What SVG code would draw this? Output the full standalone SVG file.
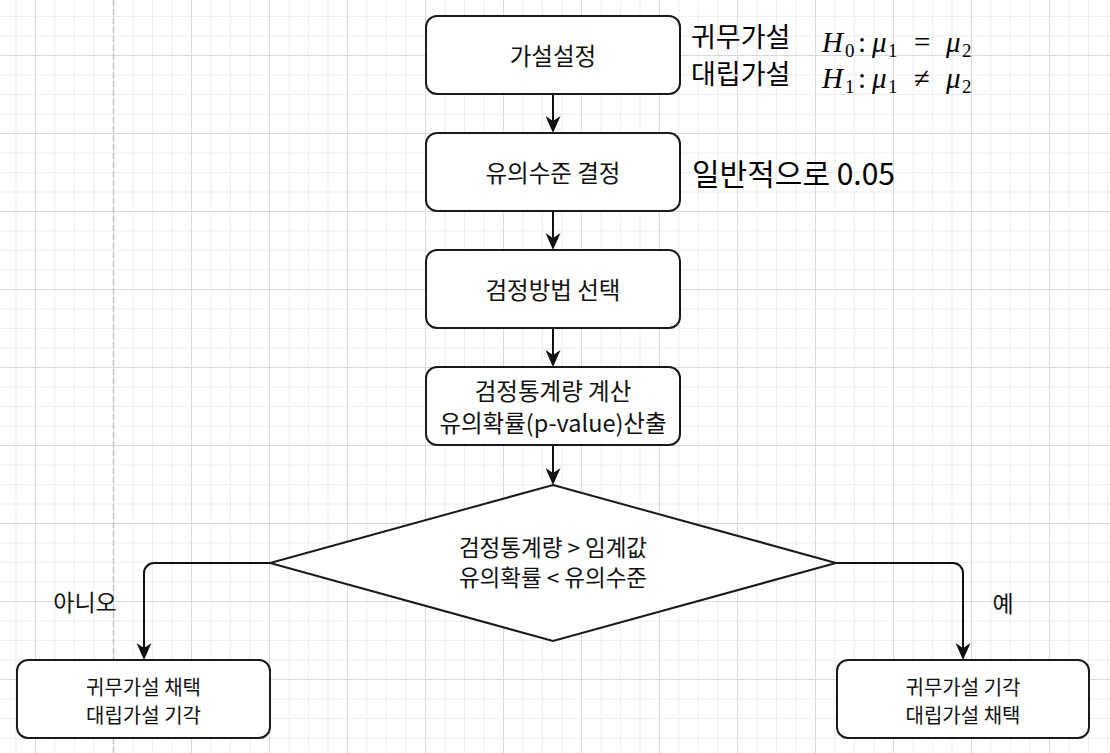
<svg xmlns="http://www.w3.org/2000/svg" width="1110" height="753" viewBox="0 0 1110 753">
  <defs>
    <pattern id="grid" patternUnits="userSpaceOnUse" x="35" y="55" width="78" height="78">
      <rect x="0" y="0" width="78" height="78" fill="#ffffff"/>
      <rect x="19.5" y="0" width="1" height="78" fill="#eeeeee"/>
      <rect x="39" y="0" width="1" height="78" fill="#eeeeee"/>
      <rect x="58.5" y="0" width="1" height="78" fill="#eeeeee"/>
      <rect x="0" y="19.5" width="78" height="1" fill="#eeeeee"/>
      <rect x="0" y="39" width="78" height="1" fill="#eeeeee"/>
      <rect x="0" y="58.5" width="78" height="1" fill="#eeeeee"/>
      <rect x="0" y="0" width="1" height="78" fill="#d9d9d9"/>
      <rect x="0" y="0" width="78" height="1" fill="#d9d9d9"/>
    </pattern>
    <marker id="arrow" markerUnits="userSpaceOnUse" markerWidth="17" markerHeight="17" viewBox="0 0 17 17" refX="13" refY="8.5" orient="auto">
      <path d="M0,1 L17,8.5 L0,16 L5,8.5 Z" fill="#111111"/>
    </marker>
  </defs>
  <style>
    .box { fill: #ffffff; stroke: #1a1a1a; stroke-width: 2; }
    .conn { fill: none; stroke: #111111; stroke-width: 2; }
    .t { font-family: "Noto Sans CJK KR", "Noto Sans", sans-serif; fill: #111111; text-anchor: middle; dominant-baseline: central; }
    .main { font-size: 23.5px; }
    .dia { font-size: 22.5px; }
    .small { font-size: 20px; }
    .lbl { font-size: 23px; }
    .side { font-family: "Noto Sans CJK KR", "Noto Sans", sans-serif; fill: #000000; font-size: 27px; dominant-baseline: central; }
    .m { font-family: "Liberation Serif", "DejaVu Serif", serif; font-size: 29px; fill: #000000; }
    .mi { font-style: italic; }
    .sub { font-size: 19px; }
  </style>

  <rect x="0" y="0" width="1110" height="753" fill="url(#grid)"/>
  <line x1="113.5" y1="0" x2="113.5" y2="753" stroke="#c4c4c4" stroke-width="1.5" stroke-dasharray="6 3"/>

  <g id="connectors">
    <path class="conn" d="M553,94 V129" marker-end="url(#arrow)"/>
    <path class="conn" d="M553,211 V246" marker-end="url(#arrow)"/>
    <path class="conn" d="M553,328 V363" marker-end="url(#arrow)"/>
    <path class="conn" d="M553,445 V481" marker-end="url(#arrow)"/>
    <path class="conn" d="M270,563 H154 A10,10 0 0 0 144,573 V656" marker-end="url(#arrow)"/>
    <path class="conn" d="M836,563 H953 A10,10 0 0 1 963,573 V656" marker-end="url(#arrow)"/>
  </g>

  <g id="node-hypothesis">
    <rect class="box" x="426" y="16" width="254" height="78" rx="11"/>
    <text class="t main" x="553" y="55">가설설정</text>
  </g>
  <g id="node-significance">
    <rect class="box" x="426" y="133" width="254" height="78" rx="11"/>
    <text class="t main" x="553" y="172">유의수준 결정</text>
  </g>
  <g id="node-method">
    <rect class="box" x="426" y="250" width="254" height="78" rx="11"/>
    <text class="t main" x="553" y="289">검정방법 선택</text>
  </g>
  <g id="node-statistic">
    <rect class="box" x="426" y="367" width="254" height="78" rx="11"/>
    <text class="t main" x="553" y="390">검정통계량 계산</text>
    <text class="t main" x="553" y="422">유의확률(p-value)산출</text>
  </g>
  <g id="node-decision">
    <polygon class="box" points="553,485 836,563 553,641 270,563"/>
    <text class="t dia" x="553" y="546">검정통계량 &gt; 임계값</text>
    <text class="t dia" x="553" y="576">유의확률 &lt; 유의수준</text>
  </g>
  <g id="node-accept-null">
    <rect class="box" x="17" y="660" width="253" height="78" rx="11"/>
    <text class="t small" x="143.5" y="686">귀무가설 채택</text>
    <text class="t small" x="143.5" y="714">대립가설 기각</text>
  </g>
  <g id="node-reject-null">
    <rect class="box" x="837" y="660" width="252" height="78" rx="11"/>
    <text class="t small" x="963" y="686">귀무가설 기각</text>
    <text class="t small" x="963" y="714">대립가설 채택</text>
  </g>

  <g id="edge-labels">
    <text class="t lbl" x="85" y="601">아니오</text>
    <text class="t lbl" x="1003" y="602">예</text>
  </g>

  <g id="annotations">
    <text class="side" x="691" y="35.5">귀무가설</text>
    <text class="side" x="691" y="72">대립가설</text>
    <text class="m" y="52"><tspan class="mi" x="822">H</tspan><tspan class="sub" x="845" dy="5">0</tspan><tspan x="858" dy="-5">:</tspan><tspan class="mi" x="872">μ</tspan><tspan class="sub" x="888" dy="5">1</tspan><tspan x="914" dy="-5">=</tspan><tspan class="mi" x="946">μ</tspan><tspan class="sub" x="962" dy="5">2</tspan></text>
    <text class="m" y="88"><tspan class="mi" x="822">H</tspan><tspan class="sub" x="845" dy="5">1</tspan><tspan x="858" dy="-5">:</tspan><tspan class="mi" x="872">μ</tspan><tspan class="sub" x="888" dy="5">1</tspan><tspan x="914" dy="-5">≠</tspan><tspan class="mi" x="946">μ</tspan><tspan class="sub" x="962" dy="5">2</tspan></text>
    <text class="side" x="692" y="172" style="font-size:30px">일반적으로 0.05</text>
  </g>
</svg>
